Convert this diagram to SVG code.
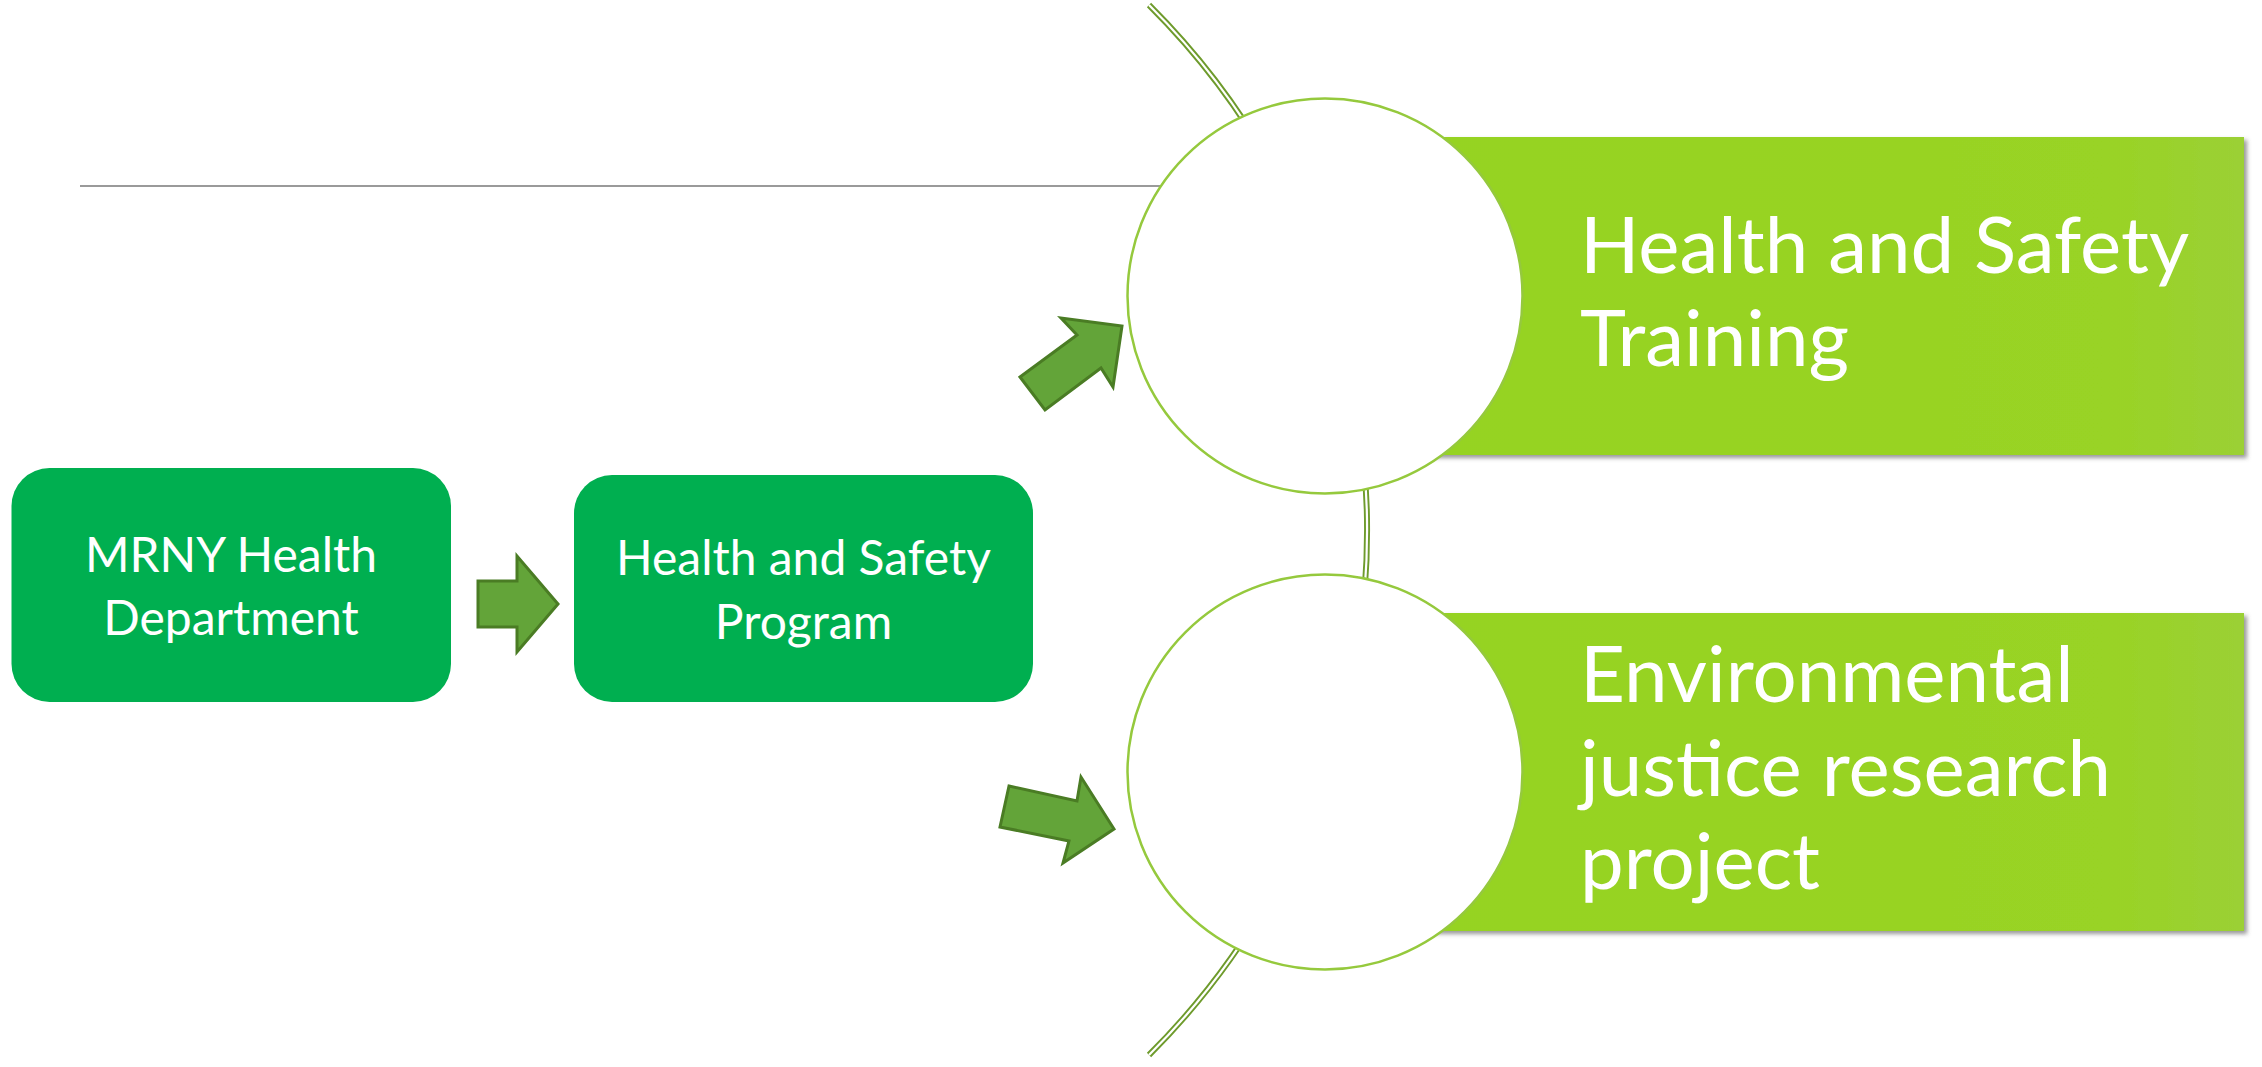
<svg xmlns="http://www.w3.org/2000/svg" width="2262" height="1067" viewBox="0 0 2262 1067">
<style>
.box{fill:#00af50}
.bt{font-family:Lato,"Open Sans","Liberation Sans",sans-serif;font-size:48px;fill:#ffffff;text-anchor:middle}
.big{font-family:Lato,"Open Sans","Liberation Sans",sans-serif;font-size:78px;fill:#ffffff}
.band{fill:url(#bandGrad);filter:url(#shadow)}
.ring{fill:#ffffff;stroke:#95c93d;stroke-width:2.5}
.arrow{fill:#63a439;stroke:#4a7c24;stroke-width:3;stroke-linejoin:miter}
</style>
<defs>
<linearGradient id="bandGrad" x1="0" y1="0" x2="1" y2="0">
<stop offset="0" stop-color="#95d320"/>
<stop offset="0.85" stop-color="#99d325"/>
<stop offset="1" stop-color="#9bd035"/>
</linearGradient>
<filter id="shadow" x="-5%" y="-5%" width="115%" height="115%">
<feDropShadow dx="3" dy="3" stdDeviation="2" flood-color="#555555" flood-opacity="0.6"/>
</filter>
</defs>
<rect width="2262" height="1067" fill="#ffffff"/>
<g id="decor">
<line x1="80" y1="186" x2="1200" y2="186" stroke="#9a9a9a" stroke-width="2"/>
</g>
<g id="connectors">
<path d="M1149 5 A741 741 0 0 1 1149 1055" fill="none" stroke="#6e9b2c" stroke-width="6"/>
<path d="M1149 5 A741 741 0 0 1 1149 1055" fill="none" stroke="#ffffff" stroke-width="2.2"/>
</g>
<g id="node-training">
<rect class="band" x="1324" y="137" width="920" height="318"/>
<circle class="ring" cx="1325" cy="296" r="197.5"/>
<text class="big"><tspan x="1580" y="273">Health and Safety</tspan><tspan x="1580" y="366">Training</tspan></text>
</g>
<g id="node-research">
<rect class="band" x="1324" y="613" width="920" height="318"/>
<circle class="ring" cx="1325" cy="772" r="197.5"/>
<text class="big"><tspan x="1580" y="702">Environmental</tspan><tspan x="1580" y="795.5">justice research</tspan><tspan x="1580" y="888.5">project</tspan></text>
</g>
<g id="arrows">
<polygon class="arrow" points="478,581 517,581 517,556 558,604 517,652 517,627 478,627"/>
<polygon class="arrow" points="1020,377 1077,335 1061,318 1122,326 1113,387 1101,368 1045,410"/>
<polygon class="arrow" points="1009,786 1077,801 1081,777 1114,829 1063,863 1069,841 1000,827"/>
</g>
<g id="node-mrny">
<rect class="box" x="11.5" y="468" width="439.5" height="234" rx="38" ry="38"/>
<text class="bt"><tspan x="231" y="572">MRNY Health</tspan><tspan x="231" y="635">Department</tspan></text>
</g>
<g id="node-program">
<rect class="box" x="574" y="475" width="459" height="227" rx="38" ry="38"/>
<text class="bt"><tspan x="803.5" y="575">Health and Safety</tspan><tspan x="803.5" y="639">Program</tspan></text>
</g>
</svg>
